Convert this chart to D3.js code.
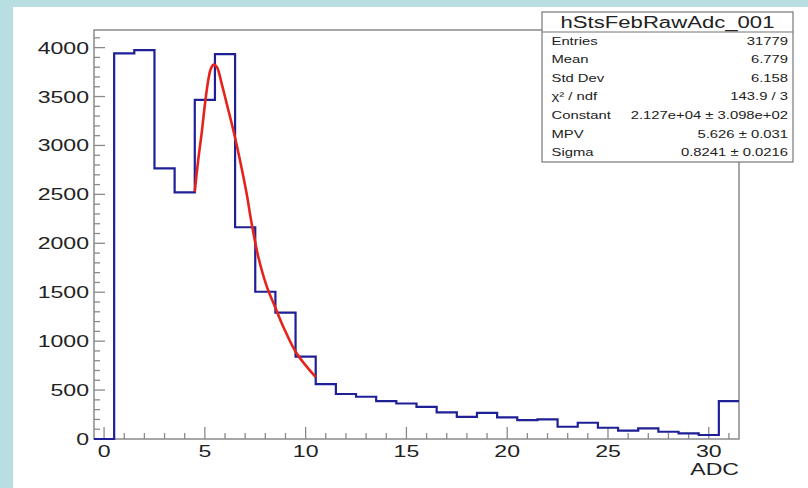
<!DOCTYPE html>
<html><head><meta charset="utf-8">
<script src="https://cdn.jsdelivr.net/npm/d3@7"></script>
<style>
html,body{margin:0;padding:0;background:#b8dee2;}
svg{display:block;}
text{font-family:"Liberation Sans",Arial,Helvetica,sans-serif;fill:#222;}
</style></head>
<body>
<svg id="c" width="808" height="488"></svg>
<script>
// ---- data ----
const adcBins = [0,1,2,3,4,5,6,7,8,9,10,11,12,13,14,15,16,17,18,19,20,21,22,23,24,25,26,27,28,29,30,31];
const counts  = [0,3942,3975,2766,2521,3465,3934,2164,1505,1291,841,560,460,432,388,363,329,272,227,268,221,193,200,125,166,115,85,109,74,58,41,388];
const fitX = [4.5,4.67,4.84,5.01,5.17,5.3,5.44,5.6,5.83,6.08,6.41,6.74,7.07,7.32,7.65,8.07,8.48,8.89,9.55,10.5];
const fitY = [2527,2851,3124,3431,3669,3785,3826,3800,3635,3431,3158,2851,2511,2204,1863,1560,1352,1148,876,632];
const xTicks = [0,5,10,15,20,25,30];
const yTicks = [0,500,1000,1500,2000,2500,3000,3500,4000];
const statTitle = "hStsFebRawAdc_001";
const statLabels = ["Entries","Mean","Std Dev","\u03C7\u00B2 / ndf","Constant","MPV","Sigma"];
const statValues = ["31779","6.779","6.158","143.9 / 3","2.127e+04 \u00B1 3.098e+02","5.626 \u00B1 0.031","0.8241 \u00B1 0.0216"];
const xTitle = "ADC";

// ---- layout ----
const svg = d3.select("#c");
const SX = 1.4; // horizontal stretch of the original picture's text
const L = 94, R = 739, T = 30, B = 439;
const x = d3.scaleLinear().domain([-0.5, 31.5]).range([L, R]);
const y = d3.scaleLinear().domain([0, 4180]).range([B, T]);

svg.append("rect").attr("x",13).attr("y",7).attr("width",808-13).attr("height",488-7).attr("fill","#fff");

const axisCol = "#8a8a8a";
// frame
svg.append("rect").attr("x",L).attr("y",T).attr("width",R-L).attr("height",B-T)
  .attr("fill","none").attr("stroke",axisCol).attr("stroke-width",1.5);

// x ticks
const xt = svg.append("g");
d3.range(0,32,1).forEach(v=>{
  const major = v%5===0;
  xt.append("line").attr("x1",x(v)).attr("x2",x(v)).attr("y1",B).attr("y2",B-(major?12:6))
    .attr("stroke",axisCol).attr("stroke-width",1.3);
});
xTicks.forEach(v=>{
  xt.append("text").attr("transform",`translate(${x(v)},457) scale(${SX},1)`)
    .attr("text-anchor","middle").attr("font-size",16.5).text(v);
});
// y ticks
const yt = svg.append("g");
d3.range(0,4200,100).forEach(v=>{
  const major = v%500===0;
  yt.append("line").attr("x1",L).attr("x2",L+(major?11:6)).attr("y1",y(v)).attr("y2",y(v))
    .attr("stroke",axisCol).attr("stroke-width",1.3);
});
yTicks.forEach(v=>{
  yt.append("text").attr("transform",`translate(89,${y(v)+6}) scale(${SX},1)`)
    .attr("text-anchor","end").attr("font-size",16.5).text(v);
});
svg.append("text").attr("transform",`translate(${R},475) scale(${SX},1)`)
  .attr("text-anchor","end").attr("font-size",16.5).text(xTitle);

// histogram step line
const pts = [];
adcBins.forEach((c,i)=>{
  pts.push([x(c-0.5), y(counts[i])]);
  pts.push([x(c+0.5), y(counts[i])]);
});
svg.append("path").attr("d", d3.line()(pts)).attr("fill","none")
  .attr("stroke","#1f1f96").attr("stroke-width",2.2).attr("stroke-linejoin","miter");

// fit curve
svg.append("path")
  .attr("d", d3.line().x((d,i)=>x(d)).y((d,i)=>y(fitY[i])).curve(d3.curveCatmullRom)(fitX))
  .attr("fill","none").attr("stroke","#e5231b").attr("stroke-width",2.6);

// stats box
const bx=542, by=12, bw=251, bh=150;
const sb = svg.append("g");
sb.append("rect").attr("x",bx).attr("y",by).attr("width",bw).attr("height",bh)
  .attr("fill","#fff").attr("stroke","#777").attr("stroke-width",1.2);
sb.append("line").attr("x1",bx).attr("x2",bx+bw).attr("y1",32).attr("y2",32)
  .attr("stroke","#777").attr("stroke-width",1.2);
sb.append("text").attr("transform",`translate(${bx+bw/2},27.5) scale(${SX},1)`)
  .attr("text-anchor","middle").attr("font-size",15.8).text(statTitle);
statLabels.forEach((lab,i)=>{
  const yy = 44.5 + i*18.65;
  sb.append("text").attr("transform",`translate(551.5,${yy}) scale(${SX},1)`)
    .attr("font-size",10.6).attr("fill","#333").text(lab);
  sb.append("text").attr("transform",`translate(788,${yy}) scale(${SX},1)`)
    .attr("text-anchor","end").attr("font-size",10.6).attr("fill","#333").text(statValues[i]);
});
</script>
</body></html>
